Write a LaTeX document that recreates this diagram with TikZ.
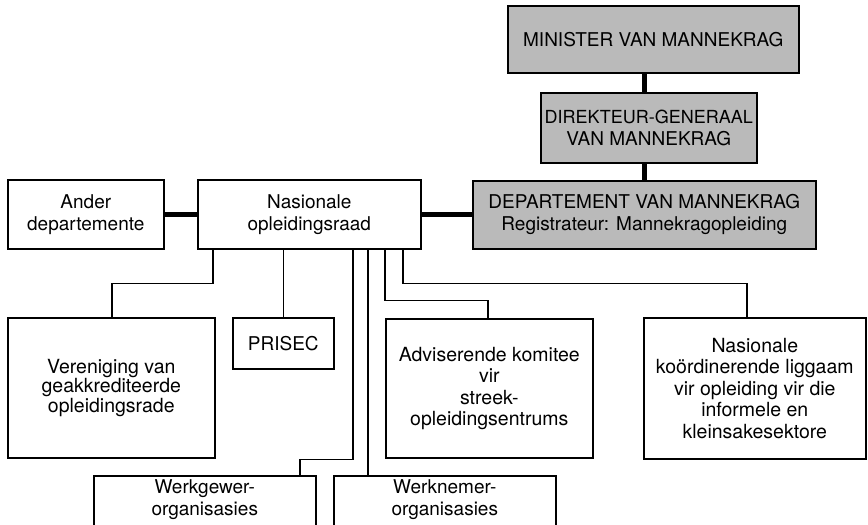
\documentclass[tikz,border=0pt]{standalone}
\usepackage{fontspec}
\setmainfont{TeX Gyre Heros}
\usetikzlibrary{positioning}

\begin{document}
\begin{tikzpicture}[x = 1pt, y = -1pt,
	txt/.style = {align = center, inner sep = 0pt, font = \fontsize{19}{22}\selectfont},
	box/.style = {txt, draw, line width = 1.6pt, anchor = north west},
	shaded/.style = {box, fill = black!27},
	low/.style = {font = \fontsize{19.5}{21.5}\selectfont},
	link/.style = {line width = 1.6pt},
	heavy/.style = {line width = 5.5pt}]

	\path [use as bounding box, clip] (0, 0) rectangle (868, 525);

	% Ministry
	
	\node [shaded, minimum width = 291pt, minimum height = 67pt] (minister) at (507, 5) {MINISTER VAN MANNEKRAG};
	\node [shaded, minimum width = 216pt, minimum height = 70pt] (director) at (540, 92) {{\fontsize{18}{22}\selectfont DIREKTEUR-GENERAAL}\\VAN MANNEKRAG};
	\node [shaded, minimum width = 343pt, minimum height = 68pt] (dept) at (472, 180) {DEPARTEMENT VAN MANNEKRAG\\Registrateur: Mannekragopleiding};
	
	% Council and other departments
	
	\node [box, minimum width = 223pt, minimum height = 69pt] (council) at (197, 179) {Nasionale\\opleidingsraad};
	\node [box, minimum width = 156pt, minimum height = 69pt] (other) at (7, 179) {Ander\\departemente};
	
	% Bodies under the council
	
	\node [box, low, minimum width = 207pt, minimum height = 140pt, font = \fontsize{19.5}{19.5}\selectfont] (assoc) at (7, 317) {Vereniging van\\geakkrediteerde\\opleidingsrade};
	\node [box, minimum width = 101pt, minimum height = 51pt] (prisec) at (232, 317) {PRISEC};
	\node [box, low, minimum width = 207pt, minimum height = 139pt] (advice) at (385, 318) {Adviserende komitee\\vir\\streek-\\opleidingsentrums};
	\node [box, low, minimum width = 222pt, minimum height = 141pt] (coord) at (643, 317) {Nasionale\\koördinerende liggaam\\vir opleiding vir die\\informele en\\kleinsakesektore};
	
	% Organisations (cut off at the bottom)
	
	\node [box, minimum width = 222pt, minimum height = 80pt] (employer) at (93, 475) {};
	\node [box, minimum width = 222pt, minimum height = 80pt] (employee) at (333, 475) {};
	\node [txt, below = 4pt of employer.north] (employertext) {Werkgewer-\\organisasies};
	\node [txt, below = 4pt of employee.north] (employeetext) {Werknemer-\\organisasies};
	
	% Heavy links
	
	\begin{scope}[heavy]
	
		\draw (minister.south -| dept.north) -- (director.north -| dept.north);
		\draw (director.south -| dept.north) -- (dept.north);
		\draw (other.east) -- (council.west);
		\draw (council.east) -- (council.east -| dept.west);
	
	\end{scope}
	
	% Thin links
	
	\begin{scope}[link]
	
		\draw ([xshift = 16pt] council.south west) -- ++(0, 34) -| ([xshift = 105pt] assoc.north west);
		\draw (prisec.north) -- (prisec.north |- council.south);
		\draw ([xshift = 156pt] council.south west) -- ++(0, 210) -| ([xshift = 207pt] employer.north west);
		\draw ([xshift = 171pt] council.south west) -- ++(0, 227);
		\draw ([xshift = 188pt] council.south west) -- ++(0, 51) -| ([xshift = 103pt] advice.north west);
		\draw ([xshift = 206pt] council.south west) -- ++(0, 34) -| ([xshift = 104pt] coord.north west);
	
	\end{scope}

\end{tikzpicture}
\end{document}
